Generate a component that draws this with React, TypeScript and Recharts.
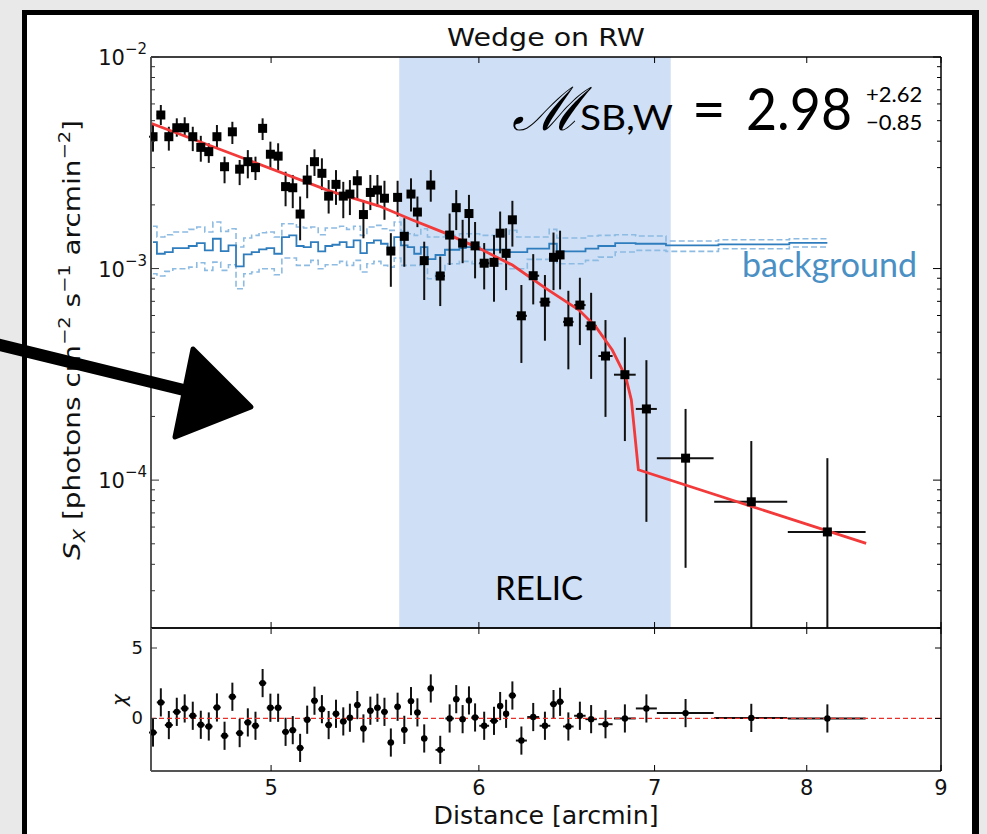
import { ComposedChart, Line, Scatter, ErrorBar, XAxis, YAxis, ReferenceArea, ReferenceLine } from 'recharts'

// radial bins of the wedge (arcmin) and half widths of each bin
const DIST = [
  4.508, 4.539, 4.571, 4.603, 4.635, 4.668, 4.701, 4.734, 4.768, 4.8,
  4.833, 4.864, 4.899, 4.932, 4.963, 4.997, 5.031, 5.064, 5.096, 5.129,
  5.161, 5.194, 5.228, 5.259, 5.293, 5.327, 5.358, 5.393, 5.422, 5.455,
  5.489, 5.523, 5.554, 5.587, 5.62, 5.653, 5.685, 5.719, 5.752, 5.8,
  5.848, 5.882, 5.915, 5.948, 5.98, 6.028, 6.08, 6.113, 6.145, 6.179,
  6.228, 6.293, 6.358, 6.406, 6.443, 6.49, 6.556, 6.621, 6.705, 6.82,
  6.95, 7.193, 7.62, 8.146,
]
const DIST_ERR = [
  0.016, 0.016, 0.016, 0.016, 0.016, 0.016, 0.016, 0.016, 0.016, 0.016,
  0.016, 0.016, 0.016, 0.016, 0.016, 0.016, 0.016, 0.016, 0.016, 0.016,
  0.016, 0.016, 0.016, 0.016, 0.016, 0.016, 0.016, 0.016, 0.016, 0.016,
  0.016, 0.016, 0.016, 0.016, 0.016, 0.016, 0.016, 0.016, 0.016, 0.024,
  0.022, 0.017, 0.017, 0.016, 0.02, 0.026, 0.022, 0.016, 0.016, 0.02,
  0.03, 0.033, 0.03, 0.02, 0.021, 0.03, 0.033, 0.033, 0.042, 0.065,
  0.064, 0.179, 0.244, 0.278,
]

// surface brightness and its 1-sigma bounds
const SX = [
  4.2e-3, 5.32e-3, 4.2e-3, 4.63e-3, 4.63e-3, 4.2e-3, 3.74e-3, 3.57e-3, 4.2e-3, 3.03e-3,
  4.43e-3, 2.95e-3, 3.2e-3, 3.0e-3, 4.6e-3, 3.47e-3, 3.4e-3, 2.44e-3, 2.41e-3, 1.81e-3,
  2.62e-3, 3.2e-3, 2.82e-3, 2.2e-3, 2.5e-3, 2.2e-3, 2.25e-3, 2.6e-3, 1.8e-3, 2.29e-3,
  2.35e-3, 2.15e-3, 1.21e-3, 2.17e-3, 1.42e-3, 2.25e-3, 1.85e-3, 1.09e-3, 2.48e-3, 9.22e-4,
  1.44e-3, 1.94e-3, 1.32e-3, 1.82e-3, 1.28e-3, 1.06e-3, 1.07e-3, 1.47e-3, 1.18e-3, 1.7e-3,
  5.98e-4, 9.25e-4, 6.94e-4, 1.13e-3, 1.16e-3, 5.6e-4, 6.72e-4, 5.36e-4, 3.86e-4, 3.15e-4,
  2.17e-4, 1.27e-4, 7.9e-5, 5.69e-5,
]
const SX_HI = [
  4.86e-3, 5.93e-3, 4.68e-3, 5.13e-3, 5.19e-3, 4.68e-3, 4.24e-3, 3.91e-3, 4.77e-3, 3.38e-3,
  4.94e-3, 3.26e-3, 3.63e-3, 3.38e-3, 5.13e-3, 3.98e-3, 3.91e-3, 2.87e-3, 2.77e-3, 2.19e-3,
  3.09e-3, 3.66e-3, 3.32e-3, 2.62e-3, 2.92e-3, 2.57e-3, 2.62e-3, 2.92e-3, 2.11e-3, 2.77e-3,
  2.77e-3, 2.6e-3, 1.47e-3, 2.6e-3, 1.73e-3, 2.67e-3, 2.19e-3, 1.34e-3, 2.92e-3, 1.14e-3,
  1.82e-3, 2.35e-3, 1.7e-3, 2.23e-3, 1.66e-3, 1.32e-3, 1.44e-3, 1.86e-3, 1.55e-3, 2.09e-3,
  8.36e-4, 1.17e-3, 9.32e-4, 1.48e-3, 1.51e-3, 7.85e-4, 9.05e-4, 7.68e-4, 5.71e-4, 4.73e-4,
  3.69e-4, 2.17e-4, 1.53e-4, 1.27e-4,
]
const SX_LO = [
  3.57e-3, 4.77e-3, 3.61e-3, 4.2e-3, 4.2e-3, 3.59e-3, 3.2e-3, 3.16e-3, 3.7e-3, 2.53e-3,
  3.88e-3, 2.48e-3, 2.67e-3, 2.62e-3, 4.05e-3, 2.95e-3, 2.92e-3, 1.97e-3, 1.93e-3, 1.36e-3,
  2.15e-3, 2.74e-3, 2.35e-3, 1.82e-3, 2.0e-3, 1.73e-3, 1.79e-3, 2.11e-3, 1.39e-3, 1.89e-3,
  1.96e-3, 1.7e-3, 8.2e-4, 1.76e-3, 1.02e-3, 1.86e-3, 1.57e-3, 7.1e-4, 2.07e-3, 6.65e-4,
  1.04e-3, 1.52e-3, 1.06e-3, 1.4e-3, 8.99e-4, 7.97e-4, 6.97e-4, 1.18e-3, 7.91e-4, 1.27e-3,
  3.58e-4, 6.77e-4, 4.56e-4, 7.91e-4, 7.97e-4, 3.34e-4, 4.35e-4, 3.01e-4, 1.99e-4, 1.53e-4,
  6.35e-5, 3.85e-5, 2.0e-5, 2.0e-5,
]

// background level and its band (units of 1e-3)
const BG = [
  1.334, 1.175, 1.197, 1.25, 1.25, 1.278, 1.32, 1.219, 1.383, 1.21,
  1.288, 1.024, 1.167, 1.197, 1.233, 1.25, 1.175, 1.409, 1.436, 1.278,
  1.264, 1.334, 1.206, 1.278, 1.296, 1.334, 1.264, 1.359, 1.184, 1.324,
  1.359, 1.31, 1.227, 1.409, 1.288, 1.264, 1.175, 1.264, 1.109, 1.159,
  1.227, 1.227, 1.25, 1.264, 1.264, 1.227, 1.227, 1.227, 1.227, 1.197,
  1.197, 1.241, 1.241, 1.31, 1.206, 1.206, 1.206, 1.241, 1.278, 1.32,
  1.31, 1.288, 1.302, 1.324,
]
const BG_HI = [
  1.585, 1.409, 1.445, 1.488, 1.488, 1.532, 1.571, 1.488, 1.659, 1.499,
  1.542, 1.264, 1.394, 1.435, 1.477, 1.488, 1.409, 1.628, 1.628, 1.571,
  1.554, 1.571, 1.445, 1.554, 1.554, 1.585, 1.532, 1.585, 1.435, 1.571,
  1.6, 1.542, 1.516, 1.659, 1.499, 1.461, 1.435, 1.542, 1.409, 1.409,
  1.435, 1.435, 1.461, 1.461, 1.461, 1.435, 1.435, 1.435, 1.435, 1.516,
  1.409, 1.409, 1.409, 1.532, 1.394, 1.394, 1.394, 1.425, 1.435, 1.445,
  1.425, 1.349, 1.368, 1.383,
]
const BG_LO = [
  0.945, 0.922, 0.97, 0.998, 0.998, 1.016, 1.065, 0.981, 1.073, 0.981,
  1.042, 0.803, 0.945, 0.963, 0.998, 0.998, 0.935, 1.121, 1.121, 1.035,
  1.035, 1.093, 0.998, 1.042, 1.042, 1.081, 1.035, 1.093, 0.963, 1.054,
  1.081, 1.035, 1.016, 1.121, 1.035, 1.035, 1.035, 1.073, 0.895, 0.963,
  1.054, 1.054, 1.081, 1.081, 1.054, 1.054, 1.054, 1.054, 1.054, 0.998,
  0.998, 1.105, 1.105, 1.154, 1.054, 1.054, 1.054, 1.093, 1.133, 1.197,
  1.219, 1.206, 1.241, 1.264,
]

// best-fit broken power-law model
const MODEL_X = [4.5, 4.906, 5.262, 5.498, 5.66, 5.829, 6.001, 6.179, 6.363, 6.551, 6.648, 6.745, 6.825, 6.859, 6.901, 8.428]
const MODEL_Y = [4.86e-3, 3.24e-3, 2.33e-3, 1.974e-3, 1.696e-3, 1.467e-3, 1.246e-3, 1.039e-3, 8.06e-4, 6.37e-4, 5.31e-4, 4.12e-4, 3.08e-4, 2.39e-4, 1.12e-4, 5.02e-5]

// residuals (chi), unit errors
const CHI = [
  -1.0, 1.14, -0.47, 0.47, 0.71, 0.19, -0.45, -0.57, 0.78, -1.23,
  1.54, -1.04, -0.28, -0.52, 2.51, 0.76, 0.76, -0.95, -0.83, -2.09,
  -0.09, 1.26, 0.66, -0.47, 0.33, -0.21, 0.05, 0.95, -0.71, 0.55,
  0.76, 0.47, -1.71, 0.83, -0.81, 1.23, 0.43, -1.42, 2.13, -2.23,
  0.0, 1.37, -0.05, 1.28, 0.07, -0.52, -0.17, 0.88, 0.33, 1.63,
  -1.57, 0.1, -0.52, 1.02, 1.18, -0.57, 0.19, -0.05, -0.41, 0.0,
  0.71, 0.38, 0.04, 0.0,
]
const CHI_ERR = 1

const RELIC_RANGE = [5.595, 7.1]

const X_DOMAIN = [4.5, 9]
const X_TICKS = [5, 6, 7, 8, 9]
const Y_DOMAIN = [2e-5, 1e-2]
const Y_MAJOR = [1e-4, 1e-3, 1e-2]
const Y_MAJOR_EXP = ['−4', '−3', '−2']
const Y_MINOR = [
  2e-5, 3e-5, 4e-5, 5e-5, 6e-5, 7e-5, 8e-5, 9e-5,
  2e-4, 3e-4, 4e-4, 5e-4, 6e-4, 7e-4, 8e-4, 9e-4,
  2e-3, 3e-3, 4e-3, 5e-3, 6e-3, 7e-3, 8e-3, 9e-3,
]
const CHI_DOMAIN = [-3.73, 6.42]
const CHI_TICKS = [0, 5]

const points = DIST.map((x, i) => ({
  x,
  y: SX[i],
  yErr: [SX[i] - SX_LO[i], SX_HI[i] - SX[i]],
  xErr: DIST_ERR[i],
}))
const bgData = DIST.map((x, i) => ({ x, bg: BG[i] * 1e-3, hi: BG_HI[i] * 1e-3, lo: BG_LO[i] * 1e-3 }))
const modelData = MODEL_X.map((x, i) => ({ x, y: MODEL_Y[i] }))
const resid = DIST.map((x, i) => ({ x, y: CHI[i], xErr: DIST_ERR[i], chiErr: CHI_ERR }))

const FONT = '"DejaVu Sans", sans-serif'
const GILL = 'Lato, "Open Sans", sans-serif'
const BG_BLUE = '#2f7dbd'
const BG_LIGHT = '#8dbbe2'

function LeftLogTick({ x, y, payload }: any) {
  const i = Y_MAJOR.indexOf(payload.value)
  return (
    <g>
      <line x1={x} x2={x + (i >= 0 ? 8 : 4)} y1={y} y2={y} stroke="#333" strokeWidth={1} />
      {i >= 0 && (
        <text x={x - 4} y={y + 8} textAnchor="end" fontSize={21} fontFamily={FONT} fill="#111">
          10<tspan dy={-11} fontSize={15}>{Y_MAJOR_EXP[i]}</tspan>
        </text>
      )}
    </g>
  )
}

function RightLogTick({ x, y, payload }: any) {
  const major = Y_MAJOR.includes(payload.value)
  return <line x1={x} x2={x - (major ? 8 : 4)} y1={y} y2={y} stroke="#000" strokeWidth={1} />
}

function TopTick({ x, y }: any) {
  return <line x1={x} x2={x} y1={y} y2={y + 6} stroke="#000" strokeWidth={1} />
}

function BottomTick({ x, y }: any) {
  return <line x1={x} x2={x} y1={y} y2={y - 6} stroke="#000" strokeWidth={1} />
}

function BottomLabelTick({ x, y, payload }: any) {
  return (
    <g>
      <line x1={x} x2={x} y1={y} y2={y - 6} stroke="#000" strokeWidth={1} />
      <text x={x} y={y + 24} textAnchor="middle" fontSize={21} fontFamily={FONT} fill="#111">
        {String(payload.value)}
      </text>
    </g>
  )
}

function ChiLeftTick({ x, y, payload }: any) {
  return (
    <g>
      <line x1={x} x2={x + 6} y1={y} y2={y} stroke="#333" strokeWidth={1} />
      <text x={x - 8} y={y + 6} textAnchor="end" fontSize={18} fontFamily={FONT} fill="#111">
        {String(payload.value)}
      </text>
    </g>
  )
}

function ChiRightTick({ x, y }: any) {
  return <line x1={x} x2={x - 6} y1={y} y2={y} stroke="#000" strokeWidth={1} />
}

const Square = (p: any) => <rect x={p.cx - 4.5} y={p.cy - 4.5} width={9} height={9} fill="#000" />
const Dot = (p: any) => <circle cx={p.cx} cy={p.cy} r={3.2} fill="#000" />

function TopPanel() {
  return (
    <ComposedChart width={987} height={640} margin={{ top: 56, right: 45, bottom: 11, left: 150 }}>
      <XAxis
        xAxisId="b"
        dataKey="x"
        type="number"
        scale="log"
        domain={X_DOMAIN}
        allowDataOverflow
        ticks={X_TICKS}
        interval={0}
        height={1}
        tickSize={0}
        tickMargin={0}
        tick={BottomTick}
        axisLine={{ stroke: '#222', strokeWidth: 1.5 }}
      />
      <XAxis
        xAxisId="t"
        orientation="top"
        dataKey="x"
        type="number"
        scale="log"
        domain={X_DOMAIN}
        allowDataOverflow
        ticks={X_TICKS}
        interval={0}
        height={1}
        tickSize={0}
        tickMargin={0}
        tick={TopTick}
        axisLine={{ stroke: '#000', strokeWidth: 1.5 }}
      />
      <YAxis
        yAxisId="l"
        dataKey="y"
        type="number"
        scale="log"
        domain={Y_DOMAIN}
        allowDataOverflow
        ticks={[...Y_MINOR, ...Y_MAJOR]}
        interval={0}
        width={1}
        tickSize={0}
        tickMargin={0}
        tick={LeftLogTick}
        axisLine={{ stroke: '#555', strokeWidth: 2 }}
      />
      <YAxis
        yAxisId="r"
        orientation="right"
        type="number"
        scale="log"
        domain={Y_DOMAIN}
        allowDataOverflow
        ticks={[...Y_MINOR, ...Y_MAJOR]}
        interval={0}
        width={1}
        tickSize={0}
        tickMargin={0}
        tick={RightLogTick}
        axisLine={{ stroke: '#000', strokeWidth: 1.5 }}
      />
      <ReferenceArea
        xAxisId="b"
        yAxisId="l"
        x1={RELIC_RANGE[0]}
        x2={RELIC_RANGE[1]}
        fill="#cfdff6"
        fillOpacity={1}
        stroke="none"
      />
      <Line xAxisId="b" yAxisId="l" data={bgData} dataKey="hi" type="step" stroke={BG_LIGHT} strokeWidth={1.6} strokeDasharray="6 3" dot={false} isAnimationActive={false} />
      <Line xAxisId="b" yAxisId="l" data={bgData} dataKey="lo" type="step" stroke={BG_LIGHT} strokeWidth={1.6} strokeDasharray="6 3" dot={false} isAnimationActive={false} />
      <Line xAxisId="b" yAxisId="l" data={bgData} dataKey="bg" type="step" stroke={BG_BLUE} strokeWidth={1.8} dot={false} isAnimationActive={false} />
      <Scatter xAxisId="b" yAxisId="l" data={points} dataKey="y" shape={Square} isAnimationActive={false}>
        <ErrorBar dataKey="yErr" direction="y" width={0} stroke="#111" strokeWidth={2} isAnimationActive={false} />
        <ErrorBar dataKey="xErr" direction="x" width={0} stroke="#111" strokeWidth={2} isAnimationActive={false} />
      </Scatter>
      <Line xAxisId="b" yAxisId="l" data={modelData} dataKey="y" type="linear" stroke="#f23a3a" strokeWidth={2.8} dot={false} isAnimationActive={false} />
    </ComposedChart>
  )
}

function ResidualPanel() {
  return (
    <ComposedChart width={987} height={234} margin={{ top: 27, right: 45, bottom: 62, left: 150 }}>
      <XAxis
        xAxisId="b"
        dataKey="x"
        type="number"
        scale="log"
        domain={X_DOMAIN}
        allowDataOverflow
        ticks={X_TICKS}
        interval={0}
        height={1}
        tickSize={0}
        tickMargin={0}
        tick={BottomLabelTick}
        axisLine={{ stroke: '#555', strokeWidth: 2 }}
      />
      <XAxis
        xAxisId="t"
        orientation="top"
        dataKey="x"
        type="number"
        scale="log"
        domain={X_DOMAIN}
        allowDataOverflow
        ticks={X_TICKS}
        interval={0}
        height={1}
        tickSize={0}
        tickMargin={0}
        tick={TopTick}
        axisLine={{ stroke: '#000', strokeWidth: 1.5 }}
      />
      <YAxis
        yAxisId="l"
        dataKey="y"
        type="number"
        domain={CHI_DOMAIN}
        allowDataOverflow
        ticks={CHI_TICKS}
        interval={0}
        width={1}
        tickSize={0}
        tickMargin={0}
        tick={ChiLeftTick}
        axisLine={{ stroke: '#555', strokeWidth: 2 }}
      />
      <YAxis
        yAxisId="r"
        orientation="right"
        type="number"
        domain={CHI_DOMAIN}
        allowDataOverflow
        ticks={CHI_TICKS}
        interval={0}
        width={1}
        tickSize={0}
        tickMargin={0}
        tick={ChiRightTick}
        axisLine={{ stroke: '#000', strokeWidth: 1.5 }}
      />
      <Scatter xAxisId="b" yAxisId="l" data={resid} dataKey="y" shape={Dot} isAnimationActive={false}>
        <ErrorBar dataKey="chiErr" direction="y" width={0} stroke="#111" strokeWidth={2} isAnimationActive={false} />
        <ErrorBar dataKey="xErr" direction="x" width={0} stroke="#111" strokeWidth={2} isAnimationActive={false} />
      </Scatter>
      <ReferenceLine xAxisId="b" yAxisId="l" y={0} stroke="#e8302a" strokeWidth={1.3} strokeDasharray="5 3" />
    </ComposedChart>
  )
}

function Overlay() {
  return (
    <svg width={987} height={834} style={{ position: 'absolute', left: 0, top: 0, pointerEvents: 'none' }}>
      <text x={546} y={46} textAnchor="middle" fontSize={25} textLength={198} lengthAdjust="spacingAndGlyphs" fontFamily={FONT} fill="#111">
        Wedge on RW
      </text>
      <text x={80} y={340} transform="rotate(-90 80 340)" textAnchor="middle" fontSize={23} textLength={440} lengthAdjust="spacingAndGlyphs" fontFamily={FONT} fill="#111">
        <tspan fontStyle="italic">S</tspan>
        <tspan dy={5} fontSize={16} fontStyle="italic">X</tspan>
        <tspan dy={-5}> [photons cm</tspan>
        <tspan dy={-10} fontSize={16}>−2</tspan>
        <tspan dy={10}> s</tspan>
        <tspan dy={-10} fontSize={16}>−1</tspan>
        <tspan dy={10}> arcmin</tspan>
        <tspan dy={-10} fontSize={16}>−2</tspan>
        <tspan dy={10}>]</tspan>
      </text>
      <text x={126} y={700} transform="rotate(-90 126 700)" textAnchor="middle" fontSize={20} fontFamily={FONT} fontStyle="italic" fill="#111">
        χ
      </text>
      <text x={546} y={824} textAnchor="middle" fontSize={24} textLength={225} lengthAdjust="spacingAndGlyphs" fontFamily={FONT} fill="#111">
        Distance [arcmin]
      </text>
      <text x={512} y={130} fontSize={60} fontFamily='"DejaVu Serif", serif' fontStyle="italic" fill="#000">
        ℳ
      </text>
      <text x={580} y={130} fontSize={35} textLength={93} lengthAdjust="spacingAndGlyphs" fontFamily={GILL} fill="#000">
        SB,W
      </text>
      <text x={692} y={130} fontSize={58} fontFamily={GILL} fill="#000">
        =
      </text>
      <text x={746} y={130} fontSize={58} textLength={106} lengthAdjust="spacingAndGlyphs" fontFamily={GILL} fill="#000">
        2.98
      </text>
      <text x={866} y={102} fontSize={22} fontFamily={GILL} fill="#000">
        +2.62
      </text>
      <text x={866} y={130} fontSize={22} fontFamily={GILL} fill="#000">
        −0.85
      </text>
      <text x={539} y={600} textAnchor="middle" fontSize={33} fontFamily={GILL} fill="#000">
        RELIC
      </text>
      <text x={742} y={277} fontSize={34} textLength={175} lengthAdjust="spacingAndGlyphs" fontFamily={GILL} fill="#4a90c4">
        background
      </text>
      <line x1={-4} y1={344} x2={192} y2={392} stroke="#000" strokeWidth={12} strokeLinecap="round" />
      <polygon points="193,349 251,407 175,437" fill="#000" stroke="#000" strokeWidth={5} strokeLinejoin="round" />
    </svg>
  )
}

export default function App() {
  return (
    <div style={{ position: 'absolute', left: 0, top: 0, width: 987, height: 834, background: '#e9e9e9', overflow: 'hidden' }}>
      <div
        style={{
          position: 'absolute',
          left: 22,
          top: 10,
          width: 957,
          height: 860,
          boxSizing: 'border-box',
          border: '5px solid #000',
          borderRightWidth: 7,
          background: '#fff',
        }}
      />
      <div style={{ position: 'absolute', left: 0, top: 0 }}>
        <TopPanel />
      </div>
      <div style={{ position: 'absolute', left: 0, top: 600 }}>
        <ResidualPanel />
      </div>
      <Overlay />
    </div>
  )
}
